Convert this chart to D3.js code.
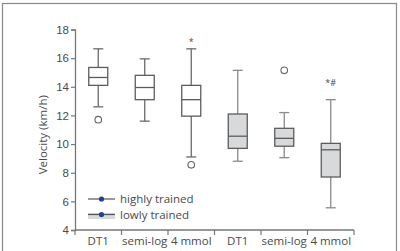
<!DOCTYPE html>
<html>
<head>
<meta charset="utf-8">
<script src="https://cdn.jsdelivr.net/npm/d3@7"></script>
<style>
  body { margin: 0; background: #fff; }
  svg { display: block; font-family: "Open Sans", "Noto Sans", sans-serif; }
</style>
</head>
<body>
<div id="chart"></div>
<script>
const categories = ["DT1", "semi-log", "4 mmol", "DT1 ", "semi-log ", "4 mmol "]
const labels = ["DT1", "semi-log", "4 mmol", "DT1", "semi-log", "4 mmol"]
const groups = ["high", "high", "high", "low", "low", "low"]
const whiskerLow = [12.6, 11.6, 9.1, 8.8, 9.05, 5.55]
const q1 = [14.1, 13.1, 11.95, 9.7, 9.85, 7.7]
const median = [14.65, 13.95, 13.1, 10.55, 10.4, 9.6]
const q3 = [15.35, 14.8, 14.1, 12.1, 11.1, 10.05]
const whiskerHigh = [16.65, 15.95, 16.65, 15.15, 12.2, 13.1]
const outliers = [[11.7], [], [8.55], [], [15.15], []]
const marks = ["", "", "*", "", "", "*#"]
const markValue = [null, null, 17.2, null, null, 14.3]
const yTicks = [4, 6, 8, 10, 12, 14, 16, 18]
const legendItems = ["highly trained", "lowly trained"]

const width = 400, height = 251
const plotLeft = 75, plotRight = 354, plotTop = 29.5, plotBottom = 230
const textColor = "#4a4a4a"
, axisColor = "#777"
, boxStroke = "#5c5c5c"
, lowFill = "#d8d9da"
, boxWidth = 19

const svg = d3.select("#chart").append("svg")
  .attr("width", width)
  .attr("height", height)

svg.append("rect")
  .attr("x", 2.5).attr("y", 3.5)
  .attr("width", 394).attr("height", 270)
  .style("fill", "none")
  .style("stroke", "#8a8a8a")
  .style("stroke-width", 1.2)

const x = d3.scaleBand().domain(categories).range([plotLeft, plotRight]).paddingInner(0).paddingOuter(0)
const y = d3.scaleLinear().domain([4, 18]).range([plotBottom, plotTop])

// y axis
const yAxis = svg.append("g")
  .attr("transform", `translate(${plotLeft},0)`)
  .call(d3.axisLeft(y).tickValues(yTicks).tickSize(4).tickPadding(2))
yAxis.select(".domain").style("stroke", axisColor).style("stroke-width", 1.3)
yAxis.selectAll(".tick line").style("stroke", axisColor).style("stroke-width", 1.2)
yAxis.selectAll(".tick text").style("font-size", "11.5px").style("fill", textColor)

// x axis: ticks at band boundaries, labels in the middle
const xg = svg.append("g")
xg.append("line")
  .attr("x1", plotLeft).attr("x2", plotRight)
  .attr("y1", plotBottom).attr("y2", plotBottom)
  .style("stroke", axisColor).style("stroke-width", 1.3)
const edges = categories.map(c => x(c)).concat([plotRight])
xg.selectAll(".xtick").data(edges).enter().append("line")
  .attr("x1", d => d).attr("x2", d => d)
  .attr("y1", plotBottom).attr("y2", plotBottom + 5)
  .style("stroke", axisColor).style("stroke-width", 1.2)
xg.selectAll(".xlabel").data(categories).enter().append("text")
  .attr("x", d => x(d) + x.bandwidth() / 2)
  .attr("y", plotBottom + 15)
  .attr("text-anchor", "middle")
  .text((d, i) => labels[i])
  .style("font-size", "11.5px")
  .style("fill", textColor)

svg.append("text")
  .attr("transform", `translate(47,${(plotTop + plotBottom) / 2 + 5}) rotate(-90)`)
  .attr("text-anchor", "middle")
  .text("Velocity (km/h)")
  .style("font-size", "11.5px")
  .style("fill", textColor)

// boxes
const boxes = svg.selectAll(".box").data(categories).enter().append("g").attr("class", "box")
boxes.each(function(c, i) {
  const g = d3.select(this)
  const cx = x(c) + x.bandwidth() / 2
  const whiskerColor = groups[i] == "low" ? "#8a8a8a" : "#6a6a6a"
  g.append("line")
    .attr("x1", cx).attr("x2", cx)
    .attr("y1", y(whiskerHigh[i])).attr("y2", y(whiskerLow[i]))
    .style("stroke", whiskerColor).style("stroke-width", 1.3)
  ;[whiskerHigh[i], whiskerLow[i]].forEach(v => {
    g.append("line")
      .attr("x1", cx - 5).attr("x2", cx + 5)
      .attr("y1", y(v)).attr("y2", y(v))
      .style("stroke", whiskerColor).style("stroke-width", 1.3)
  })
  g.append("rect")
    .attr("x", cx - boxWidth / 2)
    .attr("y", y(q3[i]))
    .attr("width", boxWidth)
    .attr("height", y(q1[i]) - y(q3[i]))
    .style("fill", groups[i] == "low" ? lowFill : "#fff")
    .style("stroke", boxStroke).style("stroke-width", 1.3)
  g.append("line")
    .attr("x1", cx - boxWidth / 2).attr("x2", cx + boxWidth / 2)
    .attr("y1", y(median[i])).attr("y2", y(median[i]))
    .style("stroke", boxStroke).style("stroke-width", 1.3)
  g.selectAll(".outlier").data(outliers[i]).enter().append("circle")
    .attr("cx", cx).attr("cy", d => y(d)).attr("r", 3.3)
    .style("fill", "none").style("stroke", "#666").style("stroke-width", 1.1)
  if (marks[i]) {
    g.append("text")
      .attr("x", cx).attr("y", y(markValue[i]) + 4)
      .attr("text-anchor", "middle")
      .text(marks[i])
      .style("font-size", "9px")
      .style("fill", textColor)
  }
})

// legend
const legend = svg.append("g")
legendItems.forEach((name, i) => {
  const ly = 199 + i * 15.5
  if (i == 1) {
    legend.append("rect")
      .attr("x", 88).attr("y", ly - 1.5)
      .attr("width", 27).attr("height", 6)
      .style("fill", lowFill)
  }
  legend.append("line")
    .attr("x1", 88).attr("x2", 115)
    .attr("y1", ly).attr("y2", ly)
    .style("stroke", "#555").style("stroke-width", 1.2)
  legend.append("circle")
    .attr("cx", 101.5).attr("cy", ly).attr("r", 2.6)
    .style("fill", "#1f3f9b")
  legend.append("text")
    .attr("x", 120).attr("y", ly + 4)
    .text(name)
    .style("font-size", "11.5px")
    .style("fill", textColor)
})
</script>
</body>
</html>
